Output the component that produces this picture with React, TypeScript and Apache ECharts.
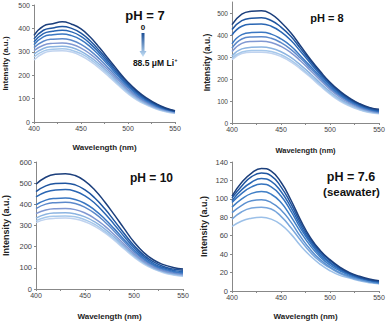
import React, { useEffect, useRef } from "react";
import * as echarts from "echarts";

const wavelengths = [400, 410, 420, 430, 440, 450, 460, 470, 480, 490, 500, 510, 520, 530, 540, 550];

const ph7 = [
  [370, 410, 420, 428, 418, 398, 362, 316, 266, 216, 170, 132, 102, 78, 60, 48],
  [355, 392, 402, 408, 400, 380, 346, 303, 256, 208, 164, 127, 98, 75, 58, 47],
  [342, 378, 388, 392, 385, 366, 334, 293, 248, 201, 158, 122, 94, 72, 56, 46],
  [330, 364, 373, 376, 369, 351, 321, 282, 239, 194, 152, 117, 90, 69, 54, 45],
  [318, 345, 354, 356, 349, 332, 304, 268, 227, 185, 145, 111, 86, 66, 52, 44],
  [305, 328, 336, 338, 332, 316, 290, 256, 217, 177, 138, 106, 82, 63, 50, 42],
  [290, 314, 322, 324, 318, 302, 277, 245, 208, 169, 132, 101, 78, 60, 48, 40],
  [278, 303, 311, 313, 307, 292, 268, 236, 200, 162, 126, 97, 75, 58, 46, 38],
  [265, 294, 303, 305, 299, 283, 259, 228, 193, 156, 121, 93, 72, 55, 44, 37],
];

const ph8 = [
  [447, 495, 508, 510, 495, 458, 410, 350, 290, 235, 185, 145, 113, 88, 71, 62],
  [425, 465, 476, 478, 466, 436, 394, 338, 282, 228, 180, 140, 109, 85, 68, 58],
  [400, 440, 449, 450, 440, 414, 376, 325, 272, 221, 174, 135, 105, 82, 65, 55],
  [360, 402, 411, 412, 404, 382, 350, 305, 258, 211, 166, 129, 100, 78, 62, 52],
  [340, 382, 391, 392, 385, 365, 335, 294, 249, 203, 160, 124, 96, 74, 59, 50],
  [325, 362, 371, 372, 366, 348, 320, 282, 239, 195, 153, 118, 91, 70, 56, 48],
  [305, 337, 344, 345, 340, 324, 298, 263, 224, 182, 143, 110, 85, 66, 53, 46],
  [295, 323, 330, 330, 325, 310, 286, 252, 214, 174, 136, 104, 80, 62, 50, 44],
  [288, 316, 322, 322, 317, 302, 278, 245, 208, 168, 131, 100, 77, 60, 48, 42],
];

const ph10 = [
  [495, 528, 542, 545, 536, 510, 468, 412, 350, 285, 222, 172, 137, 115, 102, 95],
  [460, 487, 498, 500, 492, 468, 430, 380, 322, 262, 205, 160, 128, 106, 94, 88],
  [435, 458, 468, 470, 462, 440, 405, 358, 304, 248, 195, 152, 120, 100, 88, 82],
  [398, 420, 428, 430, 423, 404, 373, 332, 284, 233, 184, 144, 114, 95, 83, 77],
  [380, 401, 408, 410, 404, 386, 357, 318, 272, 223, 176, 138, 110, 91, 79, 73],
  [356, 373, 379, 380, 375, 359, 333, 298, 256, 211, 167, 131, 104, 86, 75, 69],
  [335, 353, 359, 360, 355, 341, 317, 284, 245, 202, 160, 126, 100, 83, 72, 66],
  [323, 339, 344, 345, 341, 327, 305, 273, 236, 195, 155, 122, 97, 80, 69, 63],
  [314, 329, 334, 335, 331, 318, 296, 266, 229, 189, 150, 118, 94, 77, 66, 60],
];

const seawater = [
  [103, 118, 128, 133, 130, 118, 99, 77, 58, 44, 34, 26, 20, 16, 13, 11],
  [101, 114, 124, 128, 125, 113, 95, 74, 56, 43, 33, 25, 19, 15, 12, 11],
  [98, 110, 118, 122, 119, 108, 91, 71, 54, 41, 31, 24, 19, 15, 12, 10],
  [96, 106, 113, 116, 113, 103, 87, 68, 52, 39, 30, 23, 18, 14, 12, 10],
  [91, 100, 106, 108, 105, 96, 81, 64, 49, 37, 28, 22, 17, 14, 11, 9],
  [85, 93, 98, 99, 96, 88, 75, 59, 45, 34, 26, 20, 16, 13, 10, 9],
  [78, 86, 90, 91, 89, 81, 69, 55, 42, 32, 25, 19, 15, 12, 10, 8],
  [70, 76, 79, 80, 78, 72, 62, 49, 38, 29, 22, 17, 14, 11, 9, 8],
];

const palette9 = ["#1c3f7c", "#1f55a0", "#2a66b3", "#3a77c2", "#5c89cb", "#8198d2", "#8cb4e1", "#a6c8eb", "#c0d3ef"];
const palette8 = ["#1c3f7c", "#1f55a0", "#2a66b3", "#3573be", "#3f7fc6", "#5b90d0", "#78a6dc", "#9cc0e8"];

const panelTitles = ["pH = 7", "pH = 8", "pH = 10", "pH = 7.6", "(seawater)"];
const legendTop = "0";
const legendBottom = "88.5 μM Li";

const FONT = "Liberation Sans, Arial, sans-serif";

export default function App() {
  const ref = useRef<HTMLDivElement>(null);
  useEffect(() => {
    if (!ref.current) return;
    const chart = echarts.init(ref.current, null, { renderer: "svg" });

    const grids = [
      { left: 30, top: 5, width: 145, height: 117 },
      { left: 232, top: 2, width: 147, height: 121 },
      { left: 32, top: 162, width: 151, height: 130 },
      { left: 232, top: 162, width: 147, height: 130 },
    ];
    const yMax = [500, 550, 600, 140];
    const yInt = [100, 100, 100, 20];
    const yGap = [25, 21, 26, 24];
    const xGap = [21, 23, 23, 21];
    const yNameSize = [8, 8.5, 9, 9];
    const xNameSize = [8, 7.5, 8, 8];
    const yLabelSize = [7, 6.5, 7.5, 7.5];

    const axisLine = { show: true, lineStyle: { color: "#888", width: 1 } };

    const xAxis = grids.map((_, i) => ({
      type: "value",
      gridIndex: i,
      min: 400,
      max: 550,
      interval: 50,
      name: "Wavelength (nm)",
      nameLocation: "middle",
      nameGap: xGap[i],
      nameTextStyle: { fontFamily: FONT, fontWeight: "bold", fontSize: xNameSize[i], color: "#222" },
      axisLine,
      axisTick: { show: true, length: 2, inside: false, lineStyle: { color: "#888" } },
      minorTick: { show: true, splitNumber: 2, length: 2, lineStyle: { color: "#888" } },
      splitLine: { show: false },
      axisLabel: { fontFamily: FONT, fontSize: 7, color: "#444", margin: 3 },
    }));

    const yAxis = grids.map((_, i) => ({
      type: "value",
      gridIndex: i,
      min: 0,
      max: yMax[i],
      interval: yInt[i],
      name: "Intensity (a.u.)",
      nameLocation: "middle",
      nameRotate: 90,
      nameGap: yGap[i],
      nameTextStyle: { fontFamily: FONT, fontWeight: "bold", fontSize: yNameSize[i], color: "#222" },
      axisLine,
      axisTick: { show: true, length: 2, lineStyle: { color: "#888" } },
      splitLine: { show: false },
      axisLabel: { fontFamily: FONT, fontSize: yLabelSize[i], color: "#444", margin: 4, showMaxLabel: i === 1 ? false : true },
    }));

    const panels = [ph7, ph8, ph10, seawater];
    const series: any[] = [];
    panels.forEach((curves, p) => {
      const pal = curves.length === 8 ? palette8 : palette9;
      for (let k = curves.length - 1; k >= 0; k--) {
        series.push({
          type: "line",
          xAxisIndex: p,
          yAxisIndex: p,
          smooth: true,
          showSymbol: false,
          data: wavelengths.map((w, j) => [w, curves[k][j]]),
          lineStyle: { color: pal[k], width: 1.5 },
          itemStyle: { color: pal[k] },
        });
      }
    });

    const txt = (text: string, x: number, y: number, size: number, extra: any = {}) => ({
      type: "text",
      x,
      y,
      style: {
        text,
        fontFamily: FONT,
        fontWeight: "bold",
        fontSize: size,
        fill: "#111",
        align: "center",
        verticalAlign: "middle",
        ...extra,
      },
    });

    chart.setOption({
      animation: false,
      grid: grids,
      xAxis,
      yAxis,
      series,
      graphic: [
        txt(panelTitles[0], 145, 15, 13),
        txt(legendTop, 143, 27, 8),
        {
          type: "polygon",
          shape: {
            points: [
              [141.5, 33],
              [144.5, 33],
              [144.5, 51],
              [146.5, 51],
              [143, 57],
              [139.5, 51],
              [141.5, 51],
            ],
          },
          style: {
            fill: new echarts.graphic.LinearGradient(0, 0, 0, 1, [
              { offset: 0, color: "#1c4f96" },
              { offset: 1, color: "#c4e0f7" },
            ]),
          },
        },
        txt(legendBottom, 174, 62.5, 8.5, { align: "right" }),
        txt("+", 174.5, 59.5, 5, { align: "left" }),
        txt(panelTitles[1], 327, 18, 11),
        txt(panelTitles[2], 151.5, 178, 12),
        txt(panelTitles[3], 351, 177, 12.5),
        txt(panelTitles[4], 351.5, 192, 11.5),
      ],
    });
    return () => chart.dispose();
  }, []);
  return <div ref={ref} style={{ position: "fixed", left: 0, top: 0, width: 392, height: 321, background: "#fff" }} />;
}
